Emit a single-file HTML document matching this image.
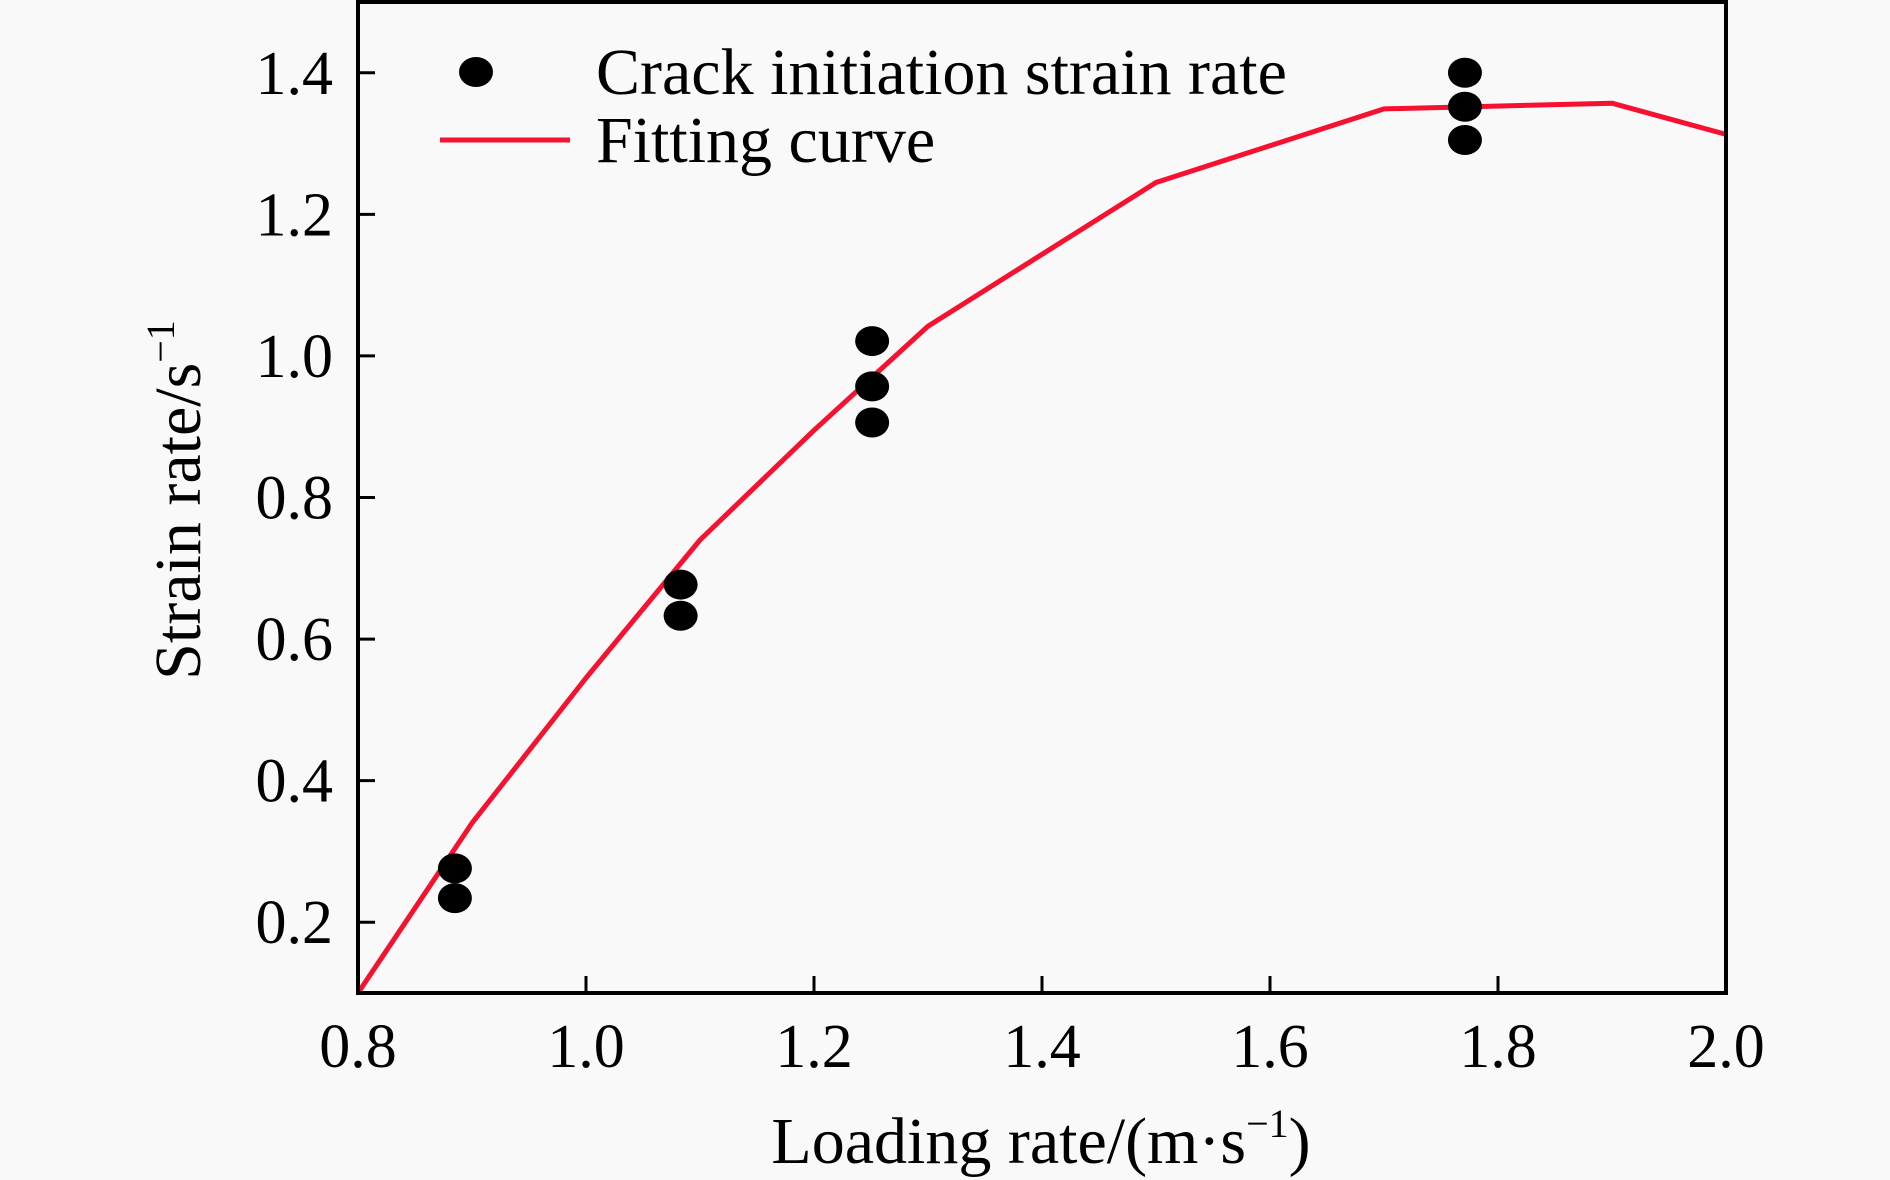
<!DOCTYPE html>
<html><head><meta charset="utf-8"><style>
html,body{margin:0;padding:0;background:#f9f9f9;}
svg{display:block;font-family:"Liberation Serif",serif;}
</style></head><body>
<svg id="chart" width="1890" height="1180" viewBox="0 0 1890 1180">
<g id="marks"></g>
</svg>
<script>
const xTicks=[0.8,1.0,1.2,1.4,1.6,1.8,2.0];
const xTickLabels=["0.8","1.0","1.2","1.4","1.6","1.8","2.0"];
const yTicks=[0.2,0.4,0.6,0.8,1.0,1.2,1.4];
const yTickLabels=["0.2","0.4","0.6","0.8","1.0","1.2","1.4"];
const pointX=[0.885,0.885,1.083,1.083,1.251,1.251,1.251,1.771,1.771,1.771];
const pointY=[0.276,0.234,0.677,0.633,1.021,0.957,0.906,1.40,1.352,1.305];
const curveX=[0.8,0.9,1.0,1.1,1.2,1.3,1.5,1.7,1.9,2.0];
const curveY=[0.1,0.34,0.545,0.74,0.895,1.042,1.245,1.349,1.357,1.313];

const L=358,R=1726,T=2,B=993;
const xMin=0.8,xMax=2.0,yMin=0.1,yMax=1.5;
function sx(v){return L+(v-xMin)/(xMax-xMin)*(R-L);}
function sy(v){return B-(v-yMin)/(yMax-yMin)*(B-T);}
const NS="http://www.w3.org/2000/svg";
const g=document.getElementById('marks');
function mk(tag,attrs,parent){const e=document.createElementNS(NS,tag);for(const k in attrs)e.setAttribute(k,attrs[k]);(parent||g).appendChild(e);return e;}

let d=curveX.map((x,i)=>(i?'L':'M')+sx(x).toFixed(1)+' '+sy(curveY[i]).toFixed(1)).join(' ');
const cp=mk('path',{d:d,fill:'none',stroke:'#f5112f','stroke-width':5,'stroke-linejoin':'round'});



pointX.forEach((x,i)=>{
  const c=mk('ellipse',{cx:sx(x),cy:sy(pointY[i]),rx:17,ry:15,fill:'#000'});
  
  
});

const fr=mk('rect',{x:L,y:T,width:R-L,height:B-T,fill:'none',stroke:'#000','stroke-width':4});



xTicks.forEach((v,i)=>{
  const t=mk('line',{x1:sx(v),x2:sx(v),y1:B,y2:B-17,stroke:'#000','stroke-width':3});
  
  
  const lb=mk('text',{x:sx(v),y:1067,'font-size':62,'text-anchor':'middle',fill:'#000'});
  lb.textContent=xTickLabels[i];
  
  
});
yTicks.forEach((v,i)=>{
  const t=mk('line',{x1:L,x2:L+17,y1:sy(v),y2:sy(v),stroke:'#000','stroke-width':3});
  
  
  const lb=mk('text',{x:333,y:sy(v)+21,'font-size':62,'text-anchor':'end',fill:'#000'});
  lb.textContent=yTickLabels[i];
  
  
});
</script>
<script>
const s=document.getElementById('chart');
s.insertAdjacentHTML('beforeend',`
<g>
  <ellipse cx="476" cy="72" rx="17" ry="15" fill="#000"/>
  <text x="596" y="94" font-size="66" fill="#000">Crack initiation strain rate</text>
  <line x1="440" x2="570" y1="140" y2="140" stroke="#f5112f" stroke-width="5"/>
  <text x="596" y="162" font-size="66" fill="#000">Fitting curve</text>
</g>
<text x="1041" y="1163" font-size="66" text-anchor="middle" fill="#000">Loading rate/(m·s<tspan dy="-26" font-size="40">−1</tspan><tspan dy="26">)</tspan></text>
<text transform="translate(200,500) rotate(-90)" font-size="66" text-anchor="middle" fill="#000">Strain rate/s<tspan dy="-26" font-size="40">−1</tspan></text>
`);
</script>
</body></html>
